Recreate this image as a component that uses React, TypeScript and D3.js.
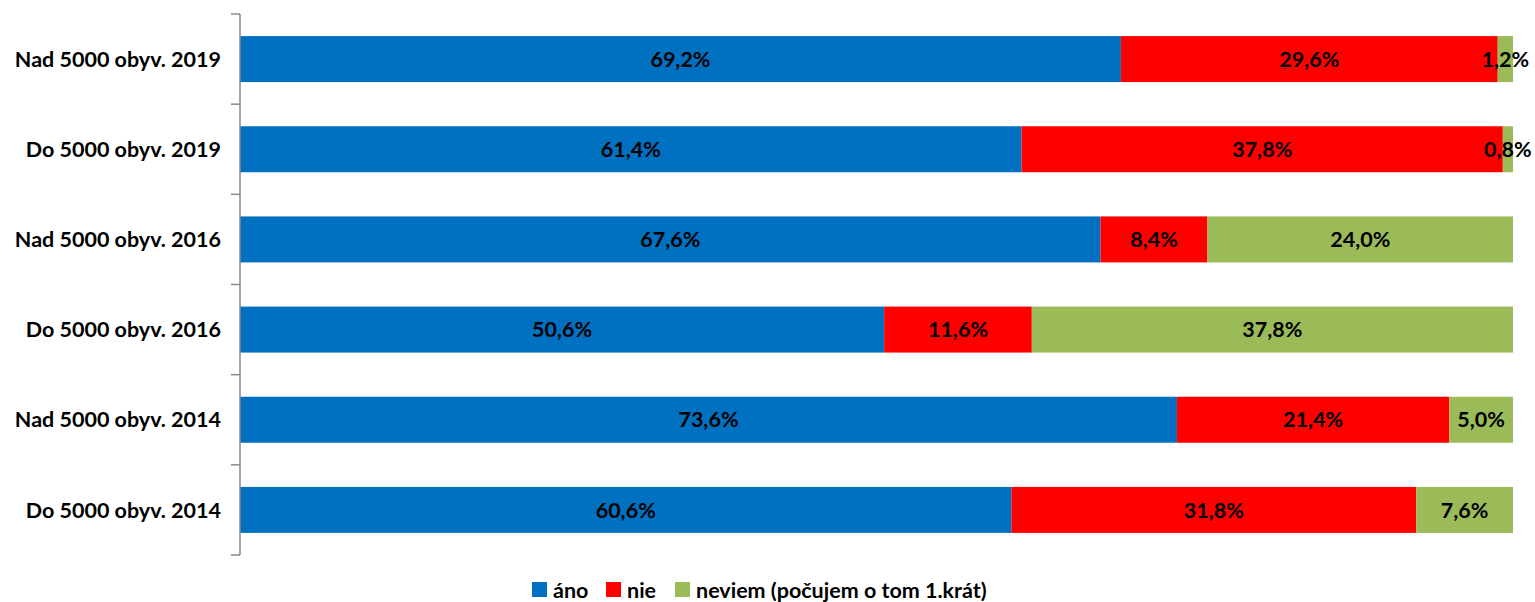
import * as d3 from "d3";

// categories top to bottom
const categories = [
	"Nad 5000 obyv. 2019",
	"Do 5000 obyv. 2019",
	"Nad 5000 obyv. 2016",
	"Do 5000 obyv. 2016",
	"Nad 5000 obyv. 2014",
	"Do 5000 obyv. 2014",
];

const seriesNames = ["áno", "nie", "neviem (počujem o tom 1.krát)"];
const seriesColors = ["#0070C0", "#FF0000", "#9BBB59"];

const ano = [69.2, 61.4, 67.6, 50.6, 73.6, 60.6];
const nie = [29.6, 37.8, 8.4, 11.6, 21.4, 31.8];
const neviem = [1.2, 0.8, 24.0, 37.8, 5.0, 7.6];

const width = 1535;
const height = 602;
const margin = { top: 14, right: 22, bottom: 47, left: 240 };
const font = "Lato, 'Open Sans', sans-serif";
const fs = 21.5;

export default function App() {
	const innerW = width - margin.left - margin.right;
	const innerH = height - margin.top - margin.bottom;

	const x = d3.scaleLinear().domain([0, 100]).range([0, innerW]);
	const y = d3
		.scaleBand<string>()
		.domain(categories)
		.range([0, innerH])
		.paddingInner(0.49)
		.paddingOuter(0.245);

	const rows = categories.map((c, i) => ({ cat: c, vals: [ano[i], nie[i], neviem[i]] }));
	const step = innerH / categories.length;
	const tickYs = d3.range(categories.length + 1).map((i) => i * step);

	// legend square x positions
	const legendX = [532, 606, 675];

	return (
		<svg width={width} height={height} style={{ position: "absolute", left: 0, top: 0 }}>
			<rect width={width} height={height} fill="#fff" />
			<g transform={`translate(${margin.left},${margin.top})`}>
				{rows.map((r) => {
					let acc = 0;
					return (
						<g key={r.cat}>
							{r.vals.map((v, k) => {
								const x0 = x(acc);
								acc += v;
								const x1 = x(acc);
								return (
									<g key={k}>
										<rect
											x={x0}
											y={y(r.cat)}
											width={x1 - x0}
											height={y.bandwidth()}
											fill={seriesColors[k]}
										/>
										<text
											x={(x0 + x1) / 2}
											y={(y(r.cat) ?? 0) + y.bandwidth() / 2}
											dy="0.36em"
											textAnchor="middle"
											fontFamily={font}
											fontWeight="bold"
											fontSize={fs}
											fill="#000"
										>
											{v.toFixed(1).replace(".", ",")}%
										</text>
									</g>
								);
							})}
						</g>
					);
				})}
				{/* axis */}
				<line x1={0} x2={0} y1={0} y2={innerH} stroke="#898989" strokeWidth={1.5} />
				{tickYs.map((t, i) => (
					<line key={i} x1={-9} x2={0} y1={t} y2={t} stroke="#898989" strokeWidth={1.5} />
				))}
				{categories.map((c) => (
					<text
						key={c}
						x={-19}
						y={(y(c) ?? 0) + y.bandwidth() / 2}
						dy="0.36em"
						textAnchor="end"
						fontFamily={font}
						fontWeight="bold"
						fontSize={fs}
						fill="#000"
					>
						{c}
					</text>
				))}
			</g>
			{/* legend */}
			<g transform="translate(0,590)">
				{seriesNames.map((s, i) => (
					<g key={s} transform={`translate(${legendX[i]},0)`}>
						<rect x={0} y={-8} width={15} height={15} fill={seriesColors[i]} />
						<text
							x={21}
							y={0}
							dy="0.36em"
							fontFamily={font}
							fontWeight="bold"
							fontSize={fs}
							fill="#000"
						>
							{s}
						</text>
					</g>
				))}
			</g>
		</svg>
	);
}
